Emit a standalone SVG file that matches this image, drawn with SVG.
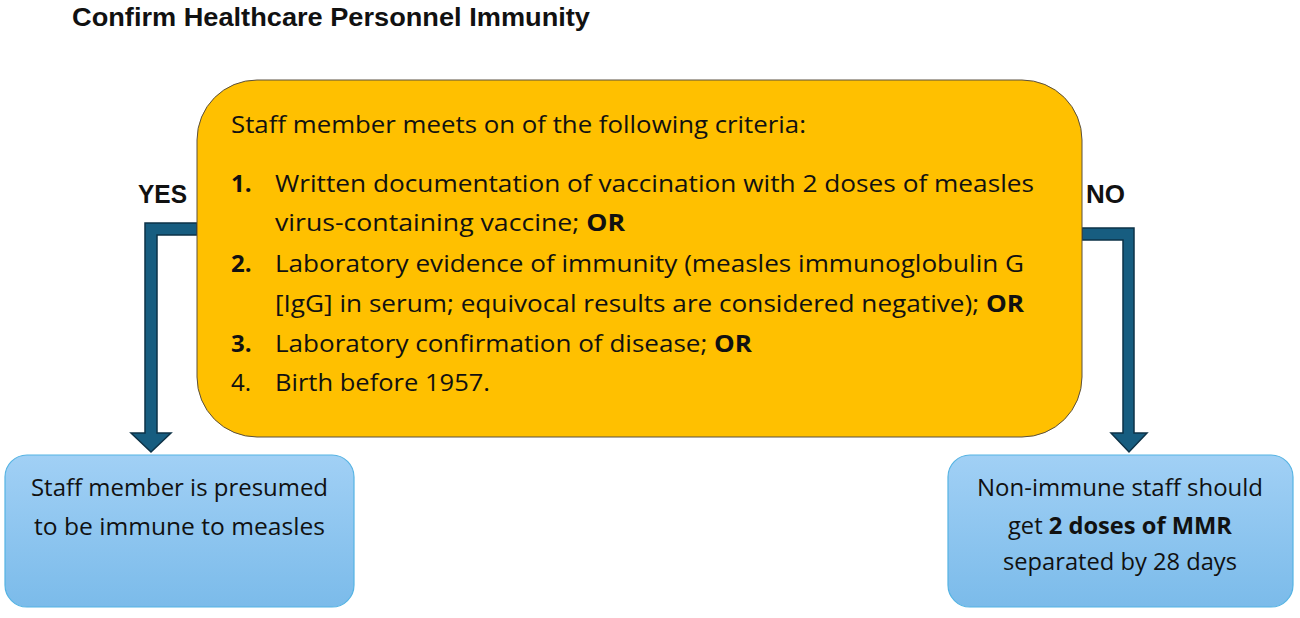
<svg xmlns="http://www.w3.org/2000/svg" width="1300" height="618" viewBox="0 0 1300 618">
<defs>
<linearGradient id="blue" x1="0" y1="0" x2="0" y2="1">
<stop offset="0" stop-color="#A1D0F5"/>
<stop offset="1" stop-color="#7BBBEA"/>
</linearGradient>
</defs>
<style>
text{font-family:"Open Sans","Liberation Sans",sans-serif;fill:#111;}
.t{font-size:24px;}
.b{font-weight:bold;}
.s{font-size:23px;}
.lbl{font-family:"Liberation Sans",Arial,sans-serif;font-size:25px;font-weight:bold;}
.box{fill:url(#blue);stroke:#55B3E3;stroke-width:1.2;}
.arrow{fill:#175D80;stroke:#0D3247;stroke-width:1.5;stroke-linejoin:miter;}
</style>
<rect width="1300" height="618" fill="#fff"/>
<text x="72" y="26" class="lbl" textLength="518" lengthAdjust="spacingAndGlyphs">Confirm Healthcare Personnel Immunity</text>
<g id="connectors">
<path class="arrow" d="M197,223 H145 V433 H131 L151,452 L171,433 H157 V235 H197 Z"/>
<path class="arrow" d="M1082,228 H1134 V433 H1147 L1129,452 L1111,433 H1123 V240 H1082 Z"/>
<text x="138" y="203" class="lbl" textLength="49" lengthAdjust="spacingAndGlyphs">YES</text>
<text x="1086" y="203" class="lbl" textLength="39" lengthAdjust="spacingAndGlyphs">NO</text>
</g>
<g id="criteria">
<rect x="197" y="80" width="885" height="357" rx="60" ry="60" fill="#FFC000" stroke="#5a5040" stroke-width="1"/>
<text x="231" y="133" class="t" textLength="575" lengthAdjust="spacingAndGlyphs">Staff member meets on of the following criteria:</text>
<text x="231" y="192" class="t b">1.</text>
<text x="275" y="192" class="t" textLength="759" lengthAdjust="spacingAndGlyphs">Written documentation of vaccination with 2 doses of measles</text>
<text x="275" y="231" class="t" textLength="350" lengthAdjust="spacingAndGlyphs">virus-containing vaccine; <tspan class="b">OR</tspan></text>
<text x="231" y="272" class="t b">2.</text>
<text x="275" y="272" class="t" textLength="749" lengthAdjust="spacingAndGlyphs">Laboratory evidence of immunity (measles immunoglobulin G</text>
<text x="275" y="312" class="t" textLength="749" lengthAdjust="spacingAndGlyphs">[IgG] in serum; equivocal results are considered negative); <tspan class="b">OR</tspan></text>
<text x="231" y="352" class="t b">3.</text>
<text x="275" y="352" class="t" textLength="477" lengthAdjust="spacingAndGlyphs">Laboratory confirmation of disease; <tspan class="b">OR</tspan></text>
<text x="231" y="391" class="t">4.</text>
<text x="275" y="391" class="t" textLength="215" lengthAdjust="spacingAndGlyphs">Birth before 1957.</text>
</g>
<g id="immune">
<rect class="box" x="5" y="455" width="349" height="152" rx="22" ry="22"/>
<text x="31" y="496" class="s" textLength="297" lengthAdjust="spacingAndGlyphs">Staff member is presumed</text>
<text x="34" y="535" class="s" textLength="291" lengthAdjust="spacingAndGlyphs">to be immune to measles</text>
</g>
<g id="nonimmune">
<rect class="box" x="948" y="455" width="345" height="152" rx="22" ry="22"/>
<text x="977" y="496" class="s" textLength="286" lengthAdjust="spacingAndGlyphs">Non-immune staff should</text>
<text x="1008" y="534" class="s" textLength="224" lengthAdjust="spacingAndGlyphs">get <tspan class="b">2 doses of MMR</tspan></text>
<text x="1003" y="570" class="s" textLength="234" lengthAdjust="spacingAndGlyphs">separated by 28 days</text>
</g>
</svg>
